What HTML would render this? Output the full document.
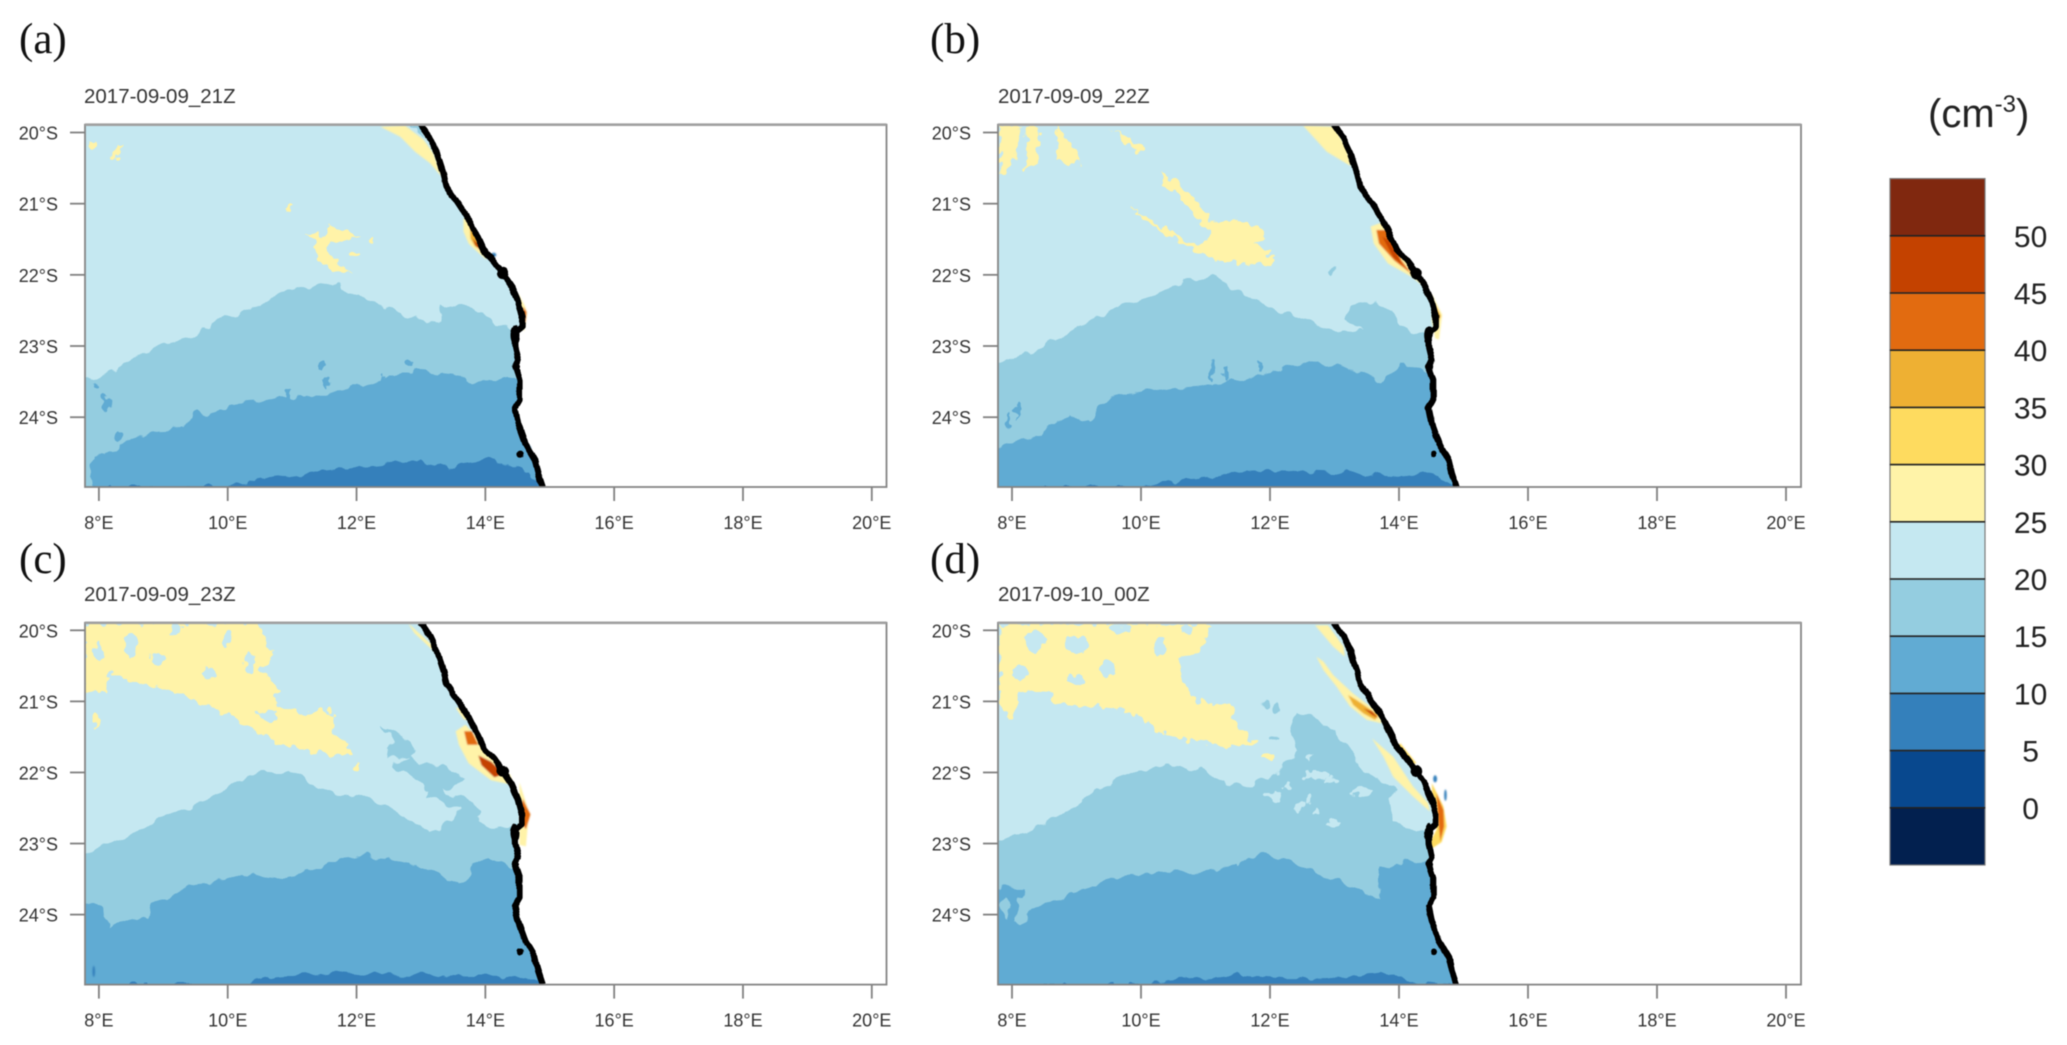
<!DOCTYPE html>
<html lang="en">
<head>
<meta charset="utf-8">
<title>Four-panel coastal concentration maps</title>
<style>
html,body{margin:0;padding:0;background:#fff;}
#figure{display:block;width:2067px;height:1045px;filter:blur(0.45px);}
text{font-family:"Liberation Sans",sans-serif;}
.serif{font-family:"Liberation Serif",serif;}
</style>
</head>
<body>
<svg id="figure" xmlns="http://www.w3.org/2000/svg" width="2067" height="1045" viewBox="0 0 2067 1045">
<defs id="defs">
<filter id="rough-band" filterUnits="userSpaceOnUse" x="0" y="0" width="2067" height="1045">
<feTurbulence type="fractalNoise" baseFrequency="0.07" numOctaves="2" seed="4" result="n"/>
<feDisplacementMap in="SourceGraphic" in2="n" scale="13" xChannelSelector="R" yChannelSelector="G"/>
</filter>
<filter id="rough-patch" filterUnits="userSpaceOnUse" x="0" y="0" width="2067" height="1045">
<feTurbulence type="fractalNoise" baseFrequency="0.11" numOctaves="2" seed="9" result="n"/>
<feDisplacementMap in="SourceGraphic" in2="n" scale="14" xChannelSelector="R" yChannelSelector="G"/>
</filter>
<filter id="rough-hot" filterUnits="userSpaceOnUse" x="0" y="0" width="2067" height="1045">
<feGaussianBlur in="SourceGraphic" stdDeviation="0.9"/>
</filter>
<filter id="rough-coast" filterUnits="userSpaceOnUse" x="0" y="0" width="2067" height="1045">
<feTurbulence type="fractalNoise" baseFrequency="0.09" numOctaves="1" seed="2" result="n"/>
<feDisplacementMap in="SourceGraphic" in2="n" scale="4" xChannelSelector="R" yChannelSelector="G"/>
</filter>
</defs>
<rect x="0" y="0" width="2067" height="1045" fill="#fff"/>
<g id="panels"></g>
<g id="colorbar"></g>
<text x="1928" y="127" font-size="40" fill="#222">(cm<tspan dy="-15" font-size="24">-3</tspan><tspan dy="15">)</tspan></text>
</svg>
<script>
/* ---------- axis data ---------- */
const lonTicks = [8, 10, 12, 14, 16, 18, 20];
const latTicks = [20, 21, 22, 23, 24];
const lonRange = [7.78, 20.23];
const latRange = [19.89, 24.98];

/* ---------- colour levels (lower bound of band -> colour) ---------- */
const bandLevels = [-5, 0, 5, 10, 15, 20, 25, 30, 35, 40, 45, 50];
const bandColors = ['#02204f', '#08488e', '#3480bb', '#61abd3', '#94cde0', '#c5e8f1', '#fff3a8', '#fedb5f', '#eeb033', '#e26b10', '#c44200', '#80280f'];
const colorbarLabels = ['0', '5', '10', '15', '20', '25', '30', '35', '40', '45', '50'];

/* ---------- coastline (lon, lat) ---------- */
const coastline = [[12.99,19.89],[13.14,20.08],[13.25,20.29],[13.35,20.57],[13.40,20.76],[13.58,21.00],[13.76,21.25],[13.89,21.49],[13.97,21.65],[14.13,21.81],[14.27,21.98],[14.41,22.17],[14.51,22.38],[14.57,22.59],[14.57,22.73],[14.45,22.82],[14.46,23.01],[14.51,23.20],[14.46,23.29],[14.53,23.48],[14.53,23.76],[14.46,23.87],[14.51,24.09],[14.62,24.37],[14.77,24.60],[14.82,24.79],[14.89,24.98]];
const coastBlobs = [[14.27,21.98,0.09,0.08],[14.46,22.85,0.07,0.14],[14.47,23.29,0.06,0.05],[14.54,24.52,0.05,0.05]];

/* ---------- panel a ---------- */
const aContour15 = [[7.78,23.48],[8.15,23.39],[8.59,23.17],[9.04,22.98],[9.44,22.84],[9.83,22.65],[10.43,22.44],[10.92,22.22],[11.32,22.17],[11.66,22.12],[12.01,22.27],[12.41,22.48],[12.90,22.58],[13.30,22.67],[13.35,22.41],[13.84,22.44],[14.09,22.65],[14.39,22.77],[14.50,22.89]];
const aContour10 = [[7.90,24.98],[7.87,24.67],[7.95,24.53],[8.10,24.55],[8.30,24.36],[8.59,24.31],[8.94,24.17],[9.29,24.15],[9.44,24.03],[9.53,23.89],[9.63,23.96],[9.93,23.91],[10.18,23.79],[10.52,23.77],[10.82,23.72],[11.12,23.72],[11.42,23.67],[11.71,23.67],[11.96,23.53],[12.31,23.53],[12.60,23.43],[12.90,23.34],[13.20,23.36],[13.50,23.39],[13.79,23.53],[14.09,23.43],[14.49,23.48]];
const aContour5 = [[9.93,24.98],[10.62,24.88],[11.22,24.79],[12.01,24.69],[12.75,24.62],[13.40,24.72],[13.79,24.67],[14.04,24.57],[14.39,24.67],[14.68,24.79],[14.88,24.98]];
const aHoles = [];
const aPatches = [
 [25,[[12.37,19.92],[12.75,19.90],[13.04,20.10],[13.19,20.29],[13.32,20.62],[13.14,20.43],[12.91,20.27],[12.68,20.06]]],
 [15,[[12.85,19.89],[12.99,19.89],[13.05,20.05],[12.95,20.00]]],
 [25,[[7.80,20.10],[7.95,20.12],[7.93,20.25],[7.85,20.20]]],
 [25,[[8.30,20.17],[8.40,20.15],[8.27,20.38],[8.22,20.35]]],
 [25,[[11.22,21.42],[11.51,21.44],[11.61,21.30],[11.71,21.37],[12.01,21.46],[11.91,21.53],[11.71,21.51],[11.56,21.58],[11.66,21.80],[11.96,22.01],[11.71,21.94],[11.42,21.82],[11.37,21.65],[11.32,21.53]]],
 [25,[[13.66,21.20],[13.74,21.25],[13.92,21.56],[14.02,21.79],[13.87,21.67],[13.74,21.56],[13.66,21.39]]],
 [35,[[13.76,21.32],[13.87,21.49],[13.94,21.65],[13.84,21.60],[13.77,21.49]]],
 [45,[[13.81,21.49],[13.92,21.60],[13.92,21.65],[13.84,21.58]]],
 [25,[[14.51,22.26],[14.62,22.45],[14.65,22.54],[14.60,22.80],[14.54,22.59]]],
 [40,[[14.59,22.45],[14.64,22.52],[14.62,22.68],[14.58,22.63]]]
];
const aBlobs = [
 [25,10.92,21.06,0.05,0.04],[25,12.25,21.52,0.04,0.04],[25,11.95,21.72,0.05,0.06],
 [10,11.47,23.27,0.03,0.08],[10,11.52,23.50,0.05,0.10],[10,10.93,23.68,0.05,0.10],[10,12.41,23.50,0.05,0.12],[10,12.80,23.25,0.04,0.05],[10,8.12,23.79,0.05,0.09],[10,8.30,24.25,0.05,0.05],[10,7.92,23.55,0.06,0.03],
 [5,14.13,21.72,0.04,0.03],[5,14.68,24.44,0.03,0.04]
];

/* ---------- panel b ---------- */
const bContour15 = [[7.81,23.27],[8.23,23.10],[8.65,22.94],[9.18,22.65],[9.71,22.46],[10.24,22.25],[10.66,22.10],[11.08,22.03],[11.50,22.22],[12.03,22.44],[12.56,22.65],[13.09,22.82],[13.40,22.77],[13.19,22.60],[13.25,22.46],[13.51,22.37],[13.83,22.46],[14.04,22.70],[14.25,22.82],[14.46,22.84]];
const bContour10 = [[7.81,24.41],[8.23,24.31],[8.44,24.22],[8.87,23.96],[9.18,24.03],[9.50,23.74],[10.03,23.65],[10.55,23.58],[11.29,23.53],[11.82,23.41],[12.24,23.32],[12.66,23.20],[13.09,23.29],[13.51,23.41],[13.77,23.48],[14.04,23.24],[14.35,23.32],[14.48,23.41]];
const bContour5 = [[10.03,24.98],[10.66,24.86],[11.40,24.79],[12.03,24.74],[12.77,24.77],[13.40,24.79],[14.04,24.84],[14.56,24.79],[14.83,24.98]];
const bHoles = [];
const bPatches = [
 [25,[[7.81,19.90],[8.13,19.90],[8.07,20.37],[7.81,20.61]]],
 [25,[[8.23,19.92],[8.44,19.92],[8.39,20.47],[8.23,20.51]]],
 [25,[[8.71,19.92],[8.81,20.04],[8.92,20.18],[9.06,20.44],[8.71,20.42]]],
 [25,[[9.55,19.90],[9.71,20.04],[10.08,20.23],[9.92,20.32],[9.81,20.18]]],
 [25,[[10.29,20.54],[10.61,20.73],[10.87,20.99],[11.08,21.23],[11.50,21.20],[11.87,21.37],[11.93,21.51],[11.77,21.56],[12.08,21.75],[12.03,21.87],[11.50,21.82],[11.19,21.82],[10.82,21.65],[10.40,21.42],[9.97,21.18],[9.87,21.06],[10.18,21.23],[10.55,21.46],[10.92,21.58],[11.08,21.46],[10.87,21.18],[10.55,20.89],[10.34,20.70]]],
 [25,[[12.51,19.90],[12.99,19.92],[13.19,20.23],[13.25,20.47],[12.88,20.27]]],
 [25,[[13.56,21.32],[13.72,21.27],[13.93,21.56],[14.25,21.94],[14.46,22.22],[14.20,22.03],[13.83,21.84],[13.61,21.56]]],
 [40,[[13.65,21.37],[13.83,21.37],[14.04,21.80],[14.20,21.99],[13.93,21.80],[13.69,21.56]]],
 [45,[[13.74,21.46],[13.85,21.53],[14.06,21.87],[13.91,21.75]]],
 [25,[[14.51,22.27],[14.67,22.56],[14.62,22.91],[14.56,22.89],[14.51,22.65]]],
 [35,[[14.56,22.41],[14.65,22.58],[14.56,22.75]]]
];
const bBlobs = [
 [10,13.98,24.65,0.09,0.06],[10,11.10,23.35,0.04,0.12],[10,11.32,23.38,0.04,0.10],[10,11.85,23.28,0.03,0.08],[10,8.10,23.90,0.04,0.12],[10,7.95,24.05,0.04,0.10],[15,12.95,21.98,0.04,0.06]
];

/* ---------- panel c ---------- */
const cContour15 = [[7.78,23.11],[8.20,22.97],[8.64,22.83],[9.14,22.56],[9.73,22.35],[10.13,22.14],[10.52,22.00],[10.97,22.00],[11.32,22.18],[11.61,22.30],[12.21,22.35],[12.50,22.52],[12.80,22.66],[13.10,22.83],[13.30,22.78],[13.40,22.68],[13.79,22.42],[13.94,22.56],[13.84,22.68],[14.09,22.80],[14.39,22.73],[14.50,22.78]];
const cContour10 = [[7.78,23.82],[8.05,23.94],[8.15,24.16],[8.35,24.09],[8.74,24.04],[8.84,23.85],[9.14,23.75],[9.34,23.61],[9.63,23.56],[9.93,23.54],[10.23,23.42],[10.72,23.47],[11.12,23.42],[11.42,23.33],[11.71,23.21],[12.11,23.18],[12.60,23.21],[13.00,23.33],[13.30,23.44],[13.59,23.54],[13.84,23.33],[14.04,23.21],[14.29,23.30],[14.44,23.35]];
const cContour5 = [[10.13,24.99],[10.72,24.87],[11.32,24.84],[11.81,24.80],[12.41,24.84],[13.00,24.84],[13.59,24.86],[14.19,24.87],[14.68,24.94],[14.88,24.99]];
const cHoles = [];
const cPatches = [
 [15,[[12.36,21.35],[12.60,21.47],[12.90,21.66],[12.80,21.76],[13.00,21.90],[13.30,21.90],[13.69,22.09],[13.50,22.18],[13.20,22.28],[13.00,22.14],[12.65,21.99],[12.55,21.90],[12.80,21.80],[12.50,21.80],[12.46,21.66],[12.55,21.57]]],
 [15,[[13.20,22.18],[13.79,22.42],[13.84,22.56],[13.40,22.47],[13.10,22.33]]],
 [25,[[7.78,19.91],[10.48,19.91],[10.62,20.14],[10.72,20.38],[10.52,20.57],[10.82,20.85],[10.72,21.04],[11.22,21.18],[11.51,21.09],[11.66,21.23],[11.61,21.42],[11.86,21.61],[11.91,21.76],[11.42,21.73],[10.82,21.61],[10.43,21.42],[10.03,21.18],[9.44,20.99],[9.34,20.90],[8.84,20.80],[8.45,20.71],[8.15,20.57],[8.10,20.90],[7.78,20.85]]],
 [25,[[12.80,19.90],[13.20,20.23],[13.30,20.38],[12.90,20.04]]],
 [25,[[13.54,21.09],[13.70,21.10],[13.80,21.28],[13.66,21.25]]],
 [25,[[13.54,21.42],[13.69,21.33],[13.89,21.52],[14.09,21.80],[14.39,22.04],[14.44,22.18],[14.09,22.11],[13.74,21.87],[13.59,21.61]]],
 [40,[[13.67,21.42],[13.79,21.42],[13.89,21.61],[13.72,21.61]]],
 [45,[[13.89,21.76],[14.09,21.85],[14.29,22.02],[14.14,22.07],[13.94,21.90]]],
 [25,[[14.53,22.14],[14.68,22.56],[14.63,23.04],[14.53,23.02],[14.53,22.56]]],
 [40,[[14.58,22.37],[14.70,22.59],[14.63,22.80],[14.53,22.66]]]
];
const cBlobs = [
 [20,8.50,20.20,0.10,0.17],[20,9.20,20.00,0.10,0.08],[20,10.00,20.10,0.08,0.10],[20,10.60,21.20,0.15,0.07],[20,8.90,20.40,0.08,0.10],[20,10.35,20.45,0.07,0.15],[20,9.70,20.60,0.10,0.06],[20,8.00,20.30,0.05,0.12],
 [25,7.95,21.28,0.05,0.12],[25,12.01,21.92,0.05,0.05],[15,8.12,23.55,0.05,0.15],[15,8.15,23.80,0.08,0.07],
 [5,7.92,24.80,0.02,0.08]
];

/* ---------- panel d ---------- */
const dContour15 = [[7.81,22.94],[8.13,22.83],[8.55,22.73],[8.87,22.47],[9.39,22.23],[9.92,21.99],[10.45,21.91],[10.92,21.95],[11.19,22.11],[11.40,22.21],[11.80,22.15],[12.20,21.95],[12.42,21.72],[12.35,21.42],[12.40,21.18],[12.77,21.21],[13.14,21.59],[13.58,22.06],[13.94,22.22],[13.86,22.34],[13.91,22.67],[14.27,22.83],[14.48,22.87]];
const dContour10 = [[7.81,23.61],[8.18,23.61],[8.07,24.09],[8.44,23.85],[8.76,23.80],[8.97,23.66],[9.34,23.56],[9.82,23.44],[10.34,23.40],[10.87,23.42],[11.40,23.33],[11.87,23.14],[12.24,23.23],[12.66,23.37],[13.09,23.52],[13.51,23.75],[13.67,23.78],[13.72,23.33],[14.04,23.28],[14.44,23.25]];
const dContour5 = [[10.03,24.99],[10.66,24.90],[11.50,24.84],[12.24,24.90],[12.88,24.90],[13.72,24.82],[14.04,24.94],[14.56,24.97],[14.78,24.99]];
const dHoles = [];
const dPatches = [
 [25,[[7.81,19.91],[11.08,19.91],[10.98,20.23],[10.77,20.38],[10.55,20.38],[10.66,20.76],[10.87,20.99],[11.45,21.04],[11.40,21.28],[11.82,21.59],[11.40,21.64],[10.87,21.57],[10.34,21.47],[10.03,21.23],[9.60,21.09],[8.65,21.04],[8.60,20.90],[8.13,20.85],[7.97,21.28],[7.81,21.04]]],
 [25,[[12.70,19.93],[12.90,19.93],[13.14,20.23],[13.16,20.37],[12.98,20.23]]],
 [25,[[12.72,20.37],[12.83,20.44],[12.98,20.63],[13.29,20.89],[13.70,21.17],[13.73,21.31],[13.50,21.26],[13.24,21.07],[13.03,20.79],[12.83,20.56]]],
 [35,[[13.21,20.91],[13.34,20.98],[13.68,21.19],[13.63,21.26],[13.45,21.17],[13.29,21.05]]],
 [45,[[13.45,21.10],[13.58,21.14],[13.68,21.24],[13.58,21.19]]],
 [25,[[13.58,21.52],[13.91,21.78],[14.22,22.20],[14.45,22.43],[14.48,22.55],[14.22,22.34],[13.91,22.06],[13.76,21.78]]],
 [30,[[14.02,21.59],[14.27,21.87],[14.20,21.89],[13.96,21.65]]],
 [30,[[14.51,22.15],[14.69,22.48],[14.74,22.76],[14.66,22.98],[14.51,23.07],[14.48,22.98],[14.58,22.81],[14.58,22.48],[14.51,22.29]]],
 [40,[[14.58,22.29],[14.69,22.53],[14.70,22.76],[14.64,22.97],[14.61,22.67]]]
];
const dBlobs = [
 [20,8.35,20.15,0.15,0.18],[20,9.00,20.20,0.18,0.12],[20,9.70,19.98,0.20,0.07],[20,8.15,20.60,0.12,0.10],[20,9.50,20.55,0.10,0.12],[20,10.30,20.25,0.08,0.15],[20,9.00,20.70,0.15,0.06],[20,10.70,19.98,0.08,0.08],
 [25,11.95,21.78,0.10,0.05],[15,11.93,21.03,0.05,0.06],[15,12.10,21.10,0.08,0.08],[15,12.10,21.50,0.07,0.03],[15,8.15,23.95,0.08,0.20],[15,7.90,23.90,0.05,0.15],[15,11.50,23.25,0.03,0.10],[15,11.20,23.10,0.02,0.05],
 [20,12.62,21.80,0.08,0.05],[20,12.72,22.03,0.20,0.06],[20,12.93,22.11,0.12,0.05],[20,12.59,22.39,0.08,0.05],[20,12.72,22.55,0.07,0.05],[20,12.98,22.72,0.10,0.05],[20,13.42,22.26,0.17,0.06],[20,12.03,22.33,0.15,0.05],[20,12.45,22.47,0.10,0.06],[20,12.27,22.20,0.08,0.05],
 [5,14.56,22.09,0.03,0.05],[5,14.72,22.32,0.02,0.08],[10,8.35,24.75,0.04,0.03]
];

/* ---------- panel layout ---------- */
const panelTitles = ['2017-09-09_21Z', '2017-09-09_22Z', '2017-09-09_23Z', '2017-09-10_00Z'];
const panelLetters = ['(a)', '(b)', '(c)', '(d)'];

const NS = 'http://www.w3.org/2000/svg';
function make(tag, attrs, parent, name) {
  const el = document.createElementNS(NS, tag);
  for (const k in attrs) el.setAttribute(k, attrs[k]);
  
  
  parent.appendChild(el);
  return el;
}
function bandColor(level) { return bandColors[bandLevels.indexOf(level)]; }

const panels = [
  {id:'a', left:85,  right:886.5, top:124.7, bottom:487,   x8:98.9, x20:871.8, y20:132.5, y24:417.2, titleX:84,  titleY:103, letterX:19,  letterY:53,  c15:aContour15, c10:aContour10, c5:aContour5, holes:aHoles, patches:aPatches, blobs:aBlobs},
  {id:'b', left:998, right:1801,  top:124.7, bottom:487,   x8:1012, x20:1786,  y20:132.5, y24:417.2, titleX:998, titleY:103, letterX:930, letterY:53,  c15:bContour15, c10:bContour10, c5:bContour5, holes:bHoles, patches:bPatches, blobs:bBlobs},
  {id:'c', left:85,  right:886.5, top:622.8, bottom:984.6, x8:98.9, x20:871.8, y20:630.3, y24:914.6, titleX:84,  titleY:601, letterX:19,  letterY:573, c15:cContour15, c10:cContour10, c5:cContour5, holes:cHoles, patches:cPatches, blobs:cBlobs},
  {id:'d', left:998, right:1801,  top:622.8, bottom:984.6, x8:1012, x20:1786,  y20:630.3, y24:914.6, titleX:998, titleY:601, letterX:930, letterY:573, c15:dContour15, c10:dContour10, c5:dContour5, holes:dHoles, patches:dPatches, blobs:dBlobs}
];

const defs = document.getElementById('defs');
const panelsGroup = document.getElementById('panels');

panels.forEach(function (p, idx) {
  const xOf = function (lon) { return p.x8 + (lon - 8) * (p.x20 - p.x8) / 12; };
  const yOf = function (lat) { return p.y20 + (lat - 20) * (p.y24 - p.y20) / 4; };
  const toPts = function (list) { return list.map(function (q) { return xOf(q[0]).toFixed(1) + ',' + yOf(q[1]).toFixed(1); }).join(' '); };
  const closeDown = function (line) {
    const first = line[0], last = line[line.length - 1];
    return line.concat([[15.6, last[1]], [15.6, 25.3], [7.5, 25.3], [7.5, first[1]]]);
  };
  const drawBlob = function (b, parent) {
    make('ellipse', {cx: xOf(b[1]), cy: yOf(b[2]), rx: Math.abs(xOf(b[1] + b[3]) - xOf(b[1])), ry: Math.abs(yOf(b[2] + b[4]) - yOf(b[2])), fill: bandColor(b[0])}, parent, 'band-' + b[0] + '-speck');
  };

  const g = make('g', {}, panelsGroup, 'panel-' + p.id);

  make('text', {x: p.letterX, y: p.letterY, 'font-size': 43, fill: '#111', class: 'serif'}, g, 'panel-label-' + p.id).textContent = panelLetters[idx];
  make('text', {x: p.titleX, y: p.titleY, 'font-size': 20.5, fill: '#333'}, g, 'panel-title-' + p.id).textContent = panelTitles[idx];

  const plotClip = make('clipPath', {id: 'plot-' + p.id}, defs, 'plot-clip-' + p.id);
  make('rect', {x: p.left, y: p.top, width: p.right - p.left, height: p.bottom - p.top}, plotClip, 'plot-clip-area');
  const oceanLine = [[7.5, 19.7], [12.9, 19.7]].concat(coastline).concat([[14.95, 25.3], [7.5, 25.3]]);
  const oceanClip = make('clipPath', {id: 'ocean-' + p.id}, defs, 'ocean-clip-' + p.id);
  make('polygon', {points: toPts(oceanLine)}, oceanClip, 'ocean-clip-area');

  const plot = make('g', {'clip-path': 'url(#plot-' + p.id + ')'}, g, 'map-' + p.id);
  const oceanClipped = make('g', {'clip-path': 'url(#ocean-' + p.id + ')'}, plot, 'ocean-' + p.id);
  make('polygon', {points: toPts(oceanLine), fill: bandColor(20)}, oceanClipped, 'band-20-25');
  const ocean = make('g', {filter: 'url(#rough-band)'}, oceanClipped, 'ocean-contours-' + p.id);

  make('polygon', {points: toPts(closeDown(p.c15)), fill: bandColor(15)}, ocean, 'band-15-20');
  p.holes.forEach(function (h) {
    make('polygon', {points: toPts(h), fill: bandColor(20)}, ocean, 'band-20-25-hole');
  });
  p.patches.filter(function (q) { return q[0] === 15; }).forEach(function (q) {
    make('polygon', {points: toPts(q[1]), fill: bandColor(15)}, ocean, 'band-15-20-patch');
  });
  make('polygon', {points: toPts(closeDown(p.c10)), fill: bandColor(10)}, ocean, 'band-10-15');
  p.blobs.filter(function (b) { return b[0] === 15; }).forEach(function (b) { drawBlob(b, ocean); });
  make('polygon', {points: toPts(closeDown(p.c5)), fill: bandColor(5)}, ocean, 'band-5-10');

  const speckled = make('g', {filter: 'url(#rough-patch)'}, plot, 'plume-patches-' + p.id);
  p.blobs.filter(function (b) { return b[0] === 10; }).forEach(function (b) { drawBlob(b, speckled); });
  p.blobs.filter(function (b) { return b[0] === 20 && b[2] >= 21.7; }).forEach(function (b) { drawBlob(b, speckled); });
  const northYellow = p.patches.filter(function (q) { return q[0] === 25 && q[1].every(function (c) { return c[0] < 12.5; }); });
  northYellow.forEach(function (q) {
    make('polygon', {points: toPts(q[1]), fill: bandColor(25)}, speckled, 'band-25-patch');
  });
  p.blobs.filter(function (b) { return b[0] === 20 && b[2] < 21.7; }).forEach(function (b) { drawBlob(b, speckled); });
  p.blobs.filter(function (b) { return b[0] === 25; }).forEach(function (b) { drawBlob(b, speckled); });

  const hot = make('g', {filter: 'url(#rough-hot)'}, plot, 'coastal-hotspots-' + p.id);
  p.patches.filter(function (q) { return q[0] === 25 && northYellow.indexOf(q) < 0; }).forEach(function (q) {
    make('polygon', {points: toPts(q[1]), fill: bandColor(25)}, hot, 'band-25-coastal');
  });
  p.patches.filter(function (q) { return q[0] > 25; }).forEach(function (q) {
    make('polygon', {points: toPts(q[1]), fill: bandColor(q[0])}, hot, 'band-' + q[0] + '-coastal');
  });
  p.blobs.filter(function (b) { return b[0] === 5; }).forEach(function (b) { drawBlob(b, hot); });

  const coast = make('g', {filter: 'url(#rough-coast)'}, plot, 'coast-' + p.id);
  make('polyline', {points: toPts(coastline), fill: 'none', stroke: '#050505', 'stroke-width': 6.2, 'stroke-linejoin': 'round', 'stroke-linecap': 'butt'}, coast, 'coastline');
  coastBlobs.forEach(function (b) {
    make('ellipse', {cx: xOf(b[0]), cy: yOf(b[1]), rx: Math.abs(xOf(b[0] + b[2]) - xOf(b[0])), ry: Math.abs(yOf(b[1] + b[3]) - yOf(b[1])), fill: '#050505'}, coast, 'coast-blob');
  });

  make('rect', {x: p.left, y: p.top, width: p.right - p.left, height: p.bottom - p.top, fill: 'none', stroke: '#858585', 'stroke-width': 1.8}, g, 'plot-frame');
  make('line', {x1: p.left, x2: p.right, y1: p.top, y2: p.top, stroke: '#a0a0a0', 'stroke-width': 2.6}, g, 'plot-frame-top');

  lonTicks.forEach(function (lon) {
    make('line', {x1: xOf(lon), x2: xOf(lon), y1: p.bottom, y2: p.bottom + 14, stroke: '#808080', 'stroke-width': 1.8}, g, 'x-tick-' + lon);
    make('text', {x: xOf(lon), y: p.bottom + 42, 'font-size': 18, fill: '#333', 'text-anchor': 'middle'}, g, 'x-tick-label-' + lon).textContent = lon + '°E';
  });
  latTicks.forEach(function (lat) {
    make('line', {x1: p.left - 15, x2: p.left, y1: yOf(lat), y2: yOf(lat), stroke: '#808080', 'stroke-width': 1.8}, g, 'y-tick-' + lat);
    make('text', {x: p.left - 27, y: yOf(lat) + 7, 'font-size': 18, fill: '#333', 'text-anchor': 'end'}, g, 'y-tick-label-' + lat).textContent = lat + '°S';
  });
});

/* ---------- colour bar ---------- */
const cb = document.getElementById('colorbar');
const cbBottom = 865, cbStep = 57.2, cbLeft = 1890, cbRight = 1985;
const cbY = function (i) { return cbBottom - i * cbStep; };
bandColors.forEach(function (color, i) {
  make('rect', {x: cbLeft, y: cbY(i + 1), width: cbRight - cbLeft, height: cbStep, fill: color, stroke: '#7a7a7a', 'stroke-width': 1.2}, cb, 'colorbar-swatch-' + bandLevels[i]);
});
colorbarLabels.forEach(function (label, i) {
  make('line', {x1: cbLeft, x2: cbRight, y1: cbY(i + 1), y2: cbY(i + 1), stroke: '#222', 'stroke-width': 1.6}, cb, 'colorbar-divider-' + label);
  make('text', {x: 2030.6, y: cbY(i + 1) + 11, 'font-size': 30, fill: '#222', 'text-anchor': 'middle'}, cb, 'colorbar-label-' + label).textContent = label;
});
</script>
</body>
</html>
